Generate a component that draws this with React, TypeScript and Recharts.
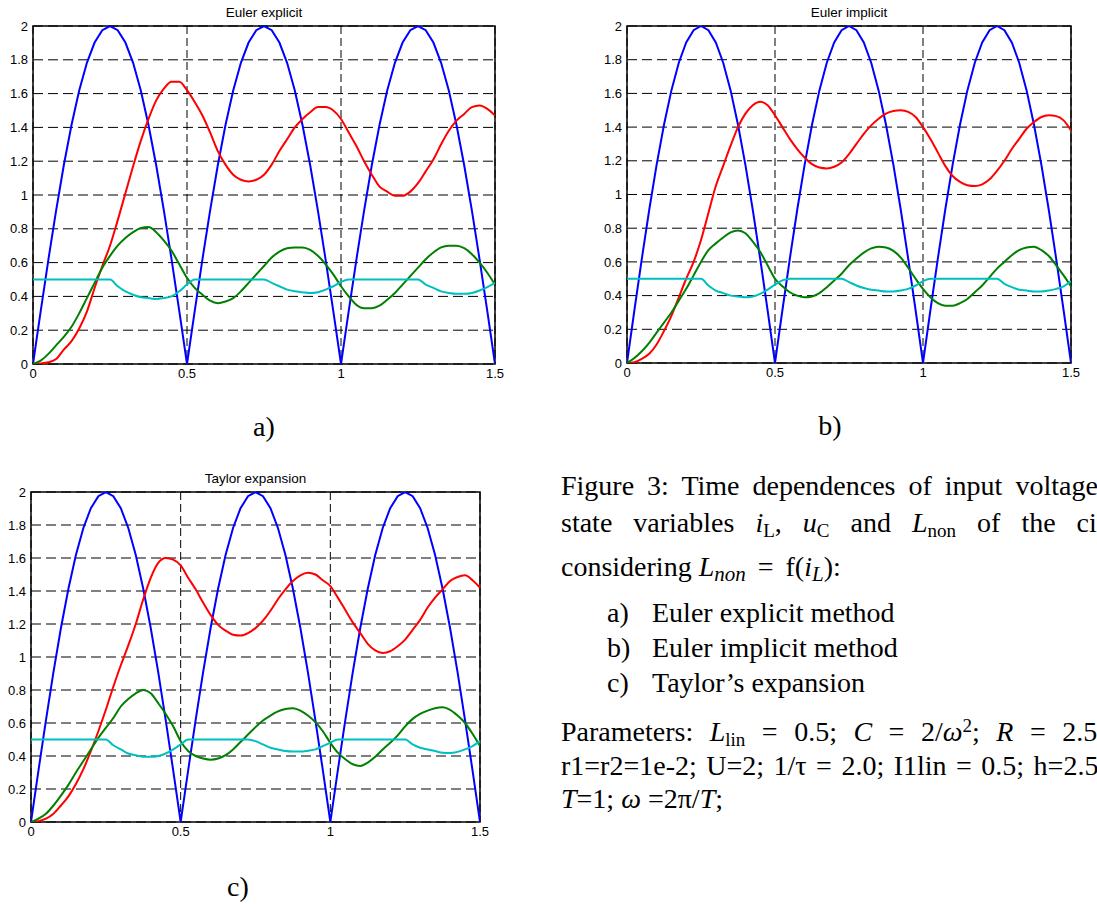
import React from 'react';
import { LineChart, Line, XAxis, YAxis, CartesianGrid, ReferenceArea } from 'recharts';

const timeS = [0,0.025,0.05,0.075,0.1,0.125,0.15,0.175,0.2,0.225,0.25,0.275,0.3,0.325,0.35,0.375,0.4,0.425,0.45,0.475,0.5,0.525,0.55,0.575,0.6,0.625,0.65,0.675,0.7,0.725,0.75,0.775,0.8,0.825,0.85,0.875,0.9,0.925,0.95,0.975,1,1.025,1.05,1.075,1.1,1.125,1.15,1.175,1.2,1.225,1.25,1.275,1.3,1.325,1.35,1.375,1.4,1.425,1.45,1.475,1.5];

const inputVoltage = [0,
  0.313,0.618,0.908,1.176,1.414,1.618,1.782,1.902,1.975,2,1.975,1.902,1.782,1.618,1.414,1.176,0.908,0.618,0.313,0,
  0.313,0.618,0.908,1.176,1.414,1.618,1.782,1.902,1.975,2,1.975,1.902,1.782,1.618,1.414,1.176,0.908,0.618,0.313,0,
  0.313,0.618,0.908,1.176,1.414,1.618,1.782,1.902,1.975,2,1.975,1.902,1.782,1.618,1.414,1.176,0.908,0.618,0.313,0];

// a) Euler explicit
const redA = [0,0.003,0.01,0.03,0.085,0.135,0.21,0.31,0.45,0.58,0.7,0.85,1.01,1.17,1.32,1.45,1.56,1.63,1.67,1.67,1.62,1.55,1.47,1.37,1.26,1.18,1.12,1.09,1.08,1.09,1.12,1.18,1.26,1.33,1.4,1.45,1.49,1.52,1.52,1.5,1.45,1.37,1.29,1.2,1.12,1.05,1.02,0.995,0.995,1.02,1.07,1.14,1.21,1.3,1.38,1.44,1.48,1.52,1.53,1.51,1.47];
const greenA = [0,0.02,0.06,0.11,0.16,0.22,0.3,0.39,0.48,0.57,0.64,0.7,0.745,0.78,0.805,0.81,0.78,0.73,0.67,0.59,0.51,0.45,0.41,0.375,0.36,0.37,0.39,0.43,0.48,0.53,0.58,0.63,0.665,0.685,0.69,0.69,0.675,0.64,0.59,0.53,0.46,0.4,0.35,0.33,0.33,0.345,0.38,0.42,0.47,0.52,0.57,0.62,0.66,0.69,0.7,0.7,0.685,0.65,0.6,0.54,0.47];
const cyanA = [0.5,0.5,0.5,0.5,0.5,0.5,0.5,0.5,0.5,0.5,0.5,0.46,0.43,0.41,0.395,0.39,0.385,0.39,0.4,0.43,0.47,0.5,0.5,0.5,0.5,0.5,0.5,0.5,0.5,0.5,0.5,0.48,0.46,0.44,0.43,0.425,0.42,0.425,0.44,0.46,0.485,0.5,0.5,0.5,0.5,0.5,0.5,0.5,0.5,0.5,0.5,0.47,0.45,0.43,0.42,0.415,0.415,0.42,0.435,0.455,0.48];

// b) Euler implicit
const redB = [0,0.005,0.025,0.055,0.11,0.19,0.28,0.39,0.5,0.6,0.73,0.89,1.05,1.17,1.29,1.4,1.48,1.53,1.55,1.53,1.47,1.4,1.33,1.27,1.22,1.18,1.16,1.155,1.165,1.19,1.24,1.3,1.36,1.41,1.45,1.48,1.495,1.5,1.49,1.46,1.4,1.33,1.25,1.17,1.11,1.075,1.055,1.05,1.06,1.09,1.14,1.2,1.27,1.33,1.39,1.43,1.46,1.47,1.465,1.44,1.38];
const greenB = [0,0.03,0.07,0.12,0.18,0.24,0.3,0.37,0.44,0.52,0.6,0.67,0.71,0.745,0.775,0.787,0.77,0.72,0.66,0.58,0.5,0.455,0.42,0.4,0.39,0.395,0.415,0.45,0.49,0.53,0.58,0.62,0.655,0.68,0.69,0.685,0.665,0.625,0.565,0.5,0.44,0.39,0.355,0.34,0.34,0.355,0.38,0.42,0.46,0.51,0.56,0.6,0.64,0.67,0.685,0.69,0.67,0.635,0.58,0.52,0.455];
const cyanB = [0.5,0.5,0.5,0.5,0.5,0.5,0.5,0.5,0.5,0.5,0.5,0.46,0.43,0.415,0.4,0.395,0.39,0.395,0.41,0.435,0.465,0.49,0.5,0.5,0.5,0.5,0.5,0.5,0.5,0.5,0.48,0.46,0.445,0.435,0.43,0.425,0.425,0.43,0.44,0.46,0.485,0.5,0.5,0.5,0.5,0.5,0.5,0.5,0.5,0.5,0.5,0.47,0.45,0.435,0.43,0.425,0.425,0.43,0.44,0.455,0.485];

// c) Taylor expansion
const redC = [0,0.005,0.02,0.05,0.1,0.155,0.23,0.32,0.43,0.55,0.68,0.82,0.95,1.07,1.2,1.35,1.48,1.57,1.6,1.59,1.555,1.48,1.41,1.33,1.255,1.195,1.16,1.135,1.13,1.145,1.175,1.22,1.28,1.35,1.41,1.46,1.495,1.51,1.5,1.465,1.43,1.36,1.285,1.21,1.145,1.08,1.04,1.025,1.035,1.065,1.105,1.165,1.225,1.3,1.36,1.41,1.46,1.485,1.495,1.465,1.42];
const greenC = [0,0.02,0.05,0.1,0.16,0.225,0.3,0.37,0.44,0.51,0.57,0.63,0.7,0.745,0.78,0.8,0.78,0.72,0.655,0.58,0.49,0.43,0.4,0.385,0.378,0.385,0.405,0.44,0.485,0.53,0.575,0.615,0.645,0.67,0.685,0.69,0.675,0.645,0.605,0.55,0.48,0.42,0.38,0.35,0.34,0.36,0.395,0.44,0.48,0.525,0.58,0.625,0.655,0.675,0.69,0.695,0.68,0.645,0.6,0.535,0.46];
const cyanC = [0.5,0.5,0.5,0.5,0.5,0.5,0.5,0.5,0.5,0.5,0.5,0.465,0.44,0.415,0.405,0.395,0.395,0.4,0.415,0.44,0.47,0.5,0.5,0.5,0.5,0.5,0.5,0.5,0.5,0.5,0.49,0.47,0.45,0.44,0.43,0.427,0.427,0.432,0.44,0.46,0.48,0.5,0.5,0.5,0.5,0.5,0.5,0.5,0.5,0.5,0.5,0.47,0.45,0.44,0.43,0.42,0.418,0.425,0.44,0.46,0.49];

const xTicks = [0, 0.5, 1, 1.5];
const yTicks = [0, 0.2, 0.4, 0.6, 0.8, 1, 1.2, 1.4, 1.6, 1.8, 2];

const SANS = '"Liberation Sans", Arial, Helvetica, sans-serif';
const SERIF = '"Liberation Serif", "Times New Roman", Times, serif';

type PanelProps = {
  title: string;
  plotLeft: number;
  plotTop: number;
  plotW: number;
  plotH: number;
  red: number[];
  green: number[];
  cyan: number[];
};

function Panel({ title, plotLeft, plotTop, plotW, plotH, red, green, cyan }: PanelProps) {
  const data = timeS.map((t, i) => ({ t, u: inputVoltage[i], r: red[i], g: green[i], c: cyan[i] }));
  const ML = 45, MT = 10, MR = 20, MB = 30;
  const tickStyle = { fill: '#000', fontSize: 13, fontFamily: SANS };
  return (
    <>
      <div style={{ position: 'absolute', left: plotLeft + plotW / 2 - 120, top: plotTop - 21, width: 240, textAlign: 'center', fontFamily: SANS, fontSize: 13.5, lineHeight: '16px', color: '#000' }}>{title}</div>
      <div style={{ position: 'absolute', left: plotLeft - ML, top: plotTop - MT }}>
        <LineChart width={plotW + ML + MR} height={plotH + MT + MB} data={data} margin={{ top: MT, right: MR, bottom: 0, left: 0 }}>
          <CartesianGrid horizontal={true} vertical={false} stroke="#000" strokeDasharray="10 5" />
          <CartesianGrid horizontal={false} vertical={true} stroke="#000" strokeDasharray="8 4" />
          <XAxis type="number" dataKey="t" domain={[0, 1.5]} ticks={xTicks} interval={0} height={MB} tickLine={false} axisLine={false} tickSize={0} tickMargin={5} tick={tickStyle} allowDataOverflow />
          <YAxis type="number" domain={[0, 2]} ticks={yTicks} interval={0} width={ML} tickLine={false} axisLine={false} tickSize={0} tickMargin={5} tick={tickStyle} allowDataOverflow />
          <ReferenceArea x1={0} x2={1.5} y1={0} y2={2} fill="none" fillOpacity={0} stroke="#000" strokeWidth={1.5} />
          <Line type="linear" dataKey="u" stroke="#0000ff" strokeWidth={2} dot={false} activeDot={false} isAnimationActive={false} />
          <Line type="monotone" dataKey="r" stroke="#ff0000" strokeWidth={2} dot={false} activeDot={false} isAnimationActive={false} />
          <Line type="monotone" dataKey="g" stroke="#008000" strokeWidth={2} dot={false} activeDot={false} isAnimationActive={false} />
          <Line type="monotone" dataKey="c" stroke="#00bfbf" strokeWidth={2} dot={false} activeDot={false} isAnimationActive={false} />
        </LineChart>
      </div>
    </>
  );
}

const FS = 28;

function Txt({ x, b, children, style, fs = FS }: { x: number; b: number; children: React.ReactNode; style?: React.CSSProperties; fs?: number }) {
  return (
    <div style={{ position: 'absolute', left: x, top: b - 0.8375 * fs, fontSize: fs, lineHeight: `${fs}px`, whiteSpace: 'nowrap', fontFamily: SERIF, color: '#000', ...style }}>{children}</div>
  );
}

const Sub = ({ children, italic, size = 0.68 }: { children: React.ReactNode; italic?: boolean; size?: number }) => (
  <span style={{ fontSize: `${size}em`, position: 'relative', top: '0.28em', fontStyle: italic ? 'italic' : 'normal' }}>{children}</span>
);
const Sup = ({ children }: { children: React.ReactNode }) => (
  <span style={{ fontSize: '0.68em', position: 'relative', top: '-0.45em' }}>{children}</span>
);
const I = ({ children }: { children: React.ReactNode }) => <span style={{ fontStyle: 'italic' }}>{children}</span>;

function Label({ cx, b, text }: { cx: number; b: number; text: string }) {
  return <Txt x={cx - 40} b={b} style={{ width: 80, textAlign: 'center' }}>{text}</Txt>;
}

export default function App() {
  const L = 561;
  return (
    <div style={{ position: 'absolute', left: 0, top: 0, width: 1097, height: 904, overflow: 'hidden', background: '#fff' }}>
      <Panel title="Euler explicit" plotLeft={33} plotTop={26} plotW={462} plotH={338} red={redA} green={greenA} cyan={cyanA} />
      <Panel title="Euler implicit" plotLeft={627} plotTop={26} plotW={444} plotH={337} red={redB} green={greenB} cyan={cyanB} />
      <Panel title="Taylor expansion" plotLeft={31} plotTop={492} plotW={449} plotH={330} red={redC} green={greenC} cyan={cyanC} />

      <Label cx={264} b={436} text="a)" />
      <Label cx={830} b={435} text="b)" />
      <Label cx={238} b={896} text="c)" />

      <Txt x={L} b={495} style={{ wordSpacing: '6px' }}>Figure 3: Time dependences of input voltage</Txt>
      <Txt x={L} b={532} style={{ wordSpacing: '14px' }}>
        state variables <I>i</I><Sub>L</Sub>, <I>u</I><Sub>C</Sub> and <I>L</I><Sub>non</Sub> of the circuit
      </Txt>
      <Txt x={L} b={576}>
        considering <I>L</I><Sub italic size={0.75}>non</Sub><span style={{ padding: '0 5px' }}> = </span>f(<I>i</I><Sub italic size={0.75}>L</Sub>):
      </Txt>

      <Txt x={607} b={622}>a)</Txt>
      <Txt x={652} b={622}>Euler explicit method</Txt>
      <Txt x={607} b={657}>b)</Txt>
      <Txt x={652} b={657}>Euler implicit method</Txt>
      <Txt x={607} b={692}>c)</Txt>
      <Txt x={652} b={692}>Taylor’s expansion</Txt>

      <Txt x={L} b={741} style={{ wordSpacing: '9.5px' }}>
        Parameters: <I>L</I><Sub>lin</Sub> = 0.5; <I>C</I> = 2/<I>ω</I><Sup>2</Sup>; <I>R</I> = 2.5;
      </Txt>
      <Txt x={L} b={775} style={{ wordSpacing: '2.5px' }}>r1=r2=1e-2; U=2; 1/τ = 2.0; I1lin = 0.5; h=2.5e-2;</Txt>
      <Txt x={L} b={808}>
        <I>T</I>=1; <I>ω</I> =2π/<I>T</I>;
      </Txt>
    </div>
  );
}
